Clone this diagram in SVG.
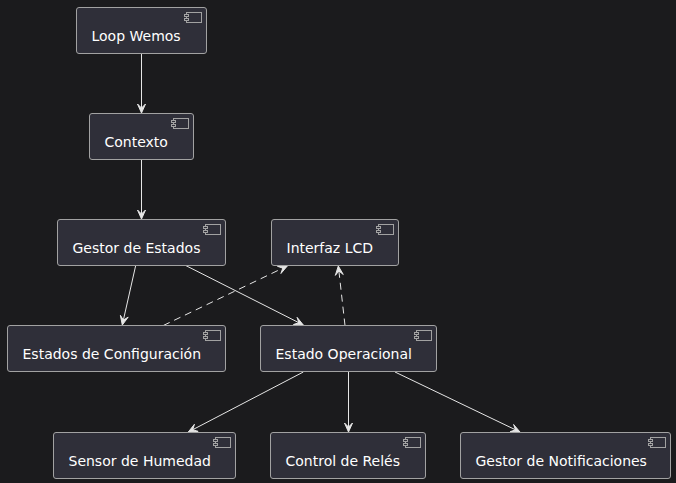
<svg xmlns="http://www.w3.org/2000/svg" width="676" height="483" viewBox="0 0 676 483">
<style>
.bg{fill:#1b1b1d}
.node rect.box{fill:#2f2f39;stroke:#a2a2a2;stroke-width:1}
.node .ic{fill:#2f2f39;stroke:#a2a2a2;stroke-width:1}
.node text{font-family:"DejaVu Sans",sans-serif;font-size:14px;fill:#ffffff}
.edge{stroke:#e6e6e6;stroke-width:1;fill:none}
.dash{stroke-dasharray:7,5}
.head{fill:#e6e6e6;stroke:#e6e6e6;stroke-width:1}
</style>
<rect class="bg" x="0" y="0" width="676" height="483"/>
<g id="connectors">
<line class="edge" x1="141.5" y1="53.5" x2="141.5" y2="112"/>
<polygon class="head" points="141.5,113 145.5,104 141.5,108 137.5,104"/>
<line class="edge" x1="141.5" y1="159.5" x2="141.5" y2="218"/>
<polygon class="head" points="141.5,219 145.5,210 141.5,214 137.5,210"/>
<line class="edge" x1="135.7" y1="265.5" x2="122.6" y2="323.5"/>
<polygon class="head" points="122.3,325 128.18,317.1 123.4,320.12 120.38,315.34"/>
<line class="edge" x1="185.7" y1="265.5" x2="302" y2="324.3"/>
<polygon class="head" points="303.3,325 293.46,324.51 298.84,322.74 297.08,317.37"/>
<line class="edge dash" x1="163.3" y1="325.5" x2="286" y2="266.6"/>
<polygon class="head" points="287.3,266 280.91,273.5 282.79,268.16 277.45,266.28"/>
<line class="edge dash" x1="345" y1="325.5" x2="338.5" y2="267.5"/>
<polygon class="head" points="338.3,266 343.28,274.49 338.86,270.97 335.34,275.39"/>
<line class="edge" x1="303.3" y1="372" x2="189.5" y2="431.4"/>
<polygon class="head" points="188.3,432 198.13,431.39 192.73,429.69 194.43,424.29"/>
<line class="edge" x1="348.5" y1="372" x2="348.5" y2="431"/>
<polygon class="head" points="348.5,432 352.5,423 348.5,427 344.5,423"/>
<line class="edge" x1="395" y1="372" x2="518.8" y2="431.4"/>
<polygon class="head" points="520,432 510.16,431.72 515.49,429.84 513.62,424.5"/>
</g>
<g id="loop-wemos" class="node">
<rect class="box" x="76.5" y="7.5" width="130" height="46" rx="2.5"/>
<rect class="ic" x="186.5" y="12.5" width="15" height="10"/>
<rect class="ic" x="184.5" y="14.5" width="4" height="2"/>
<rect class="ic" x="184.5" y="18.5" width="4" height="2"/>
<text x="91.5" y="40.5">Loop Wemos</text>
</g>
<g id="contexto" class="node">
<rect class="box" x="89.5" y="113.5" width="104" height="46" rx="2.5"/>
<rect class="ic" x="173.5" y="118.5" width="15" height="10"/>
<rect class="ic" x="171.5" y="120.5" width="4" height="2"/>
<rect class="ic" x="171.5" y="124.5" width="4" height="2"/>
<text x="104.5" y="146.5">Contexto</text>
</g>
<g id="gestor-estados" class="node">
<rect class="box" x="57.5" y="219.5" width="168" height="46" rx="2.5"/>
<rect class="ic" x="205.5" y="224.5" width="15" height="10"/>
<rect class="ic" x="203.5" y="226.5" width="4" height="2"/>
<rect class="ic" x="203.5" y="230.5" width="4" height="2"/>
<text x="72.5" y="252.5">Gestor de Estados</text>
</g>
<g id="interfaz-lcd" class="node">
<rect class="box" x="271.5" y="219.5" width="127" height="46" rx="2.5"/>
<rect class="ic" x="378.5" y="224.5" width="15" height="10"/>
<rect class="ic" x="376.5" y="226.5" width="4" height="2"/>
<rect class="ic" x="376.5" y="230.5" width="4" height="2"/>
<text x="286.5" y="252.5">Interfaz LCD</text>
</g>
<g id="estados-configuracion" class="node">
<rect class="box" x="7.5" y="325.5" width="218" height="46" rx="2.5"/>
<rect class="ic" x="205.5" y="330.5" width="15" height="10"/>
<rect class="ic" x="203.5" y="332.5" width="4" height="2"/>
<rect class="ic" x="203.5" y="336.5" width="4" height="2"/>
<text x="22.5" y="358.5">Estados de Configuración</text>
</g>
<g id="estado-operacional" class="node">
<rect class="box" x="260.5" y="325.5" width="176" height="46" rx="2.5"/>
<rect class="ic" x="416.5" y="330.5" width="15" height="10"/>
<rect class="ic" x="414.5" y="332.5" width="4" height="2"/>
<rect class="ic" x="414.5" y="336.5" width="4" height="2"/>
<text x="275.5" y="358.5">Estado Operacional</text>
</g>
<g id="sensor-humedad" class="node">
<rect class="box" x="53.5" y="432.5" width="182" height="46" rx="2.5"/>
<rect class="ic" x="215.5" y="437.5" width="15" height="10"/>
<rect class="ic" x="213.5" y="439.5" width="4" height="2"/>
<rect class="ic" x="213.5" y="443.5" width="4" height="2"/>
<text x="68.5" y="465.5">Sensor de Humedad</text>
</g>
<g id="control-reles" class="node">
<rect class="box" x="270.5" y="432.5" width="155" height="46" rx="2.5"/>
<rect class="ic" x="405.5" y="437.5" width="15" height="10"/>
<rect class="ic" x="403.5" y="439.5" width="4" height="2"/>
<rect class="ic" x="403.5" y="443.5" width="4" height="2"/>
<text x="285.5" y="465.5">Control de Relés</text>
</g>
<g id="gestor-notificaciones" class="node">
<rect class="box" x="460.5" y="432.5" width="210" height="46" rx="2.5"/>
<rect class="ic" x="650.5" y="437.5" width="15" height="10"/>
<rect class="ic" x="648.5" y="439.5" width="4" height="2"/>
<rect class="ic" x="648.5" y="443.5" width="4" height="2"/>
<text x="475.5" y="465.5">Gestor de Notificaciones</text>
</g>
</svg>
